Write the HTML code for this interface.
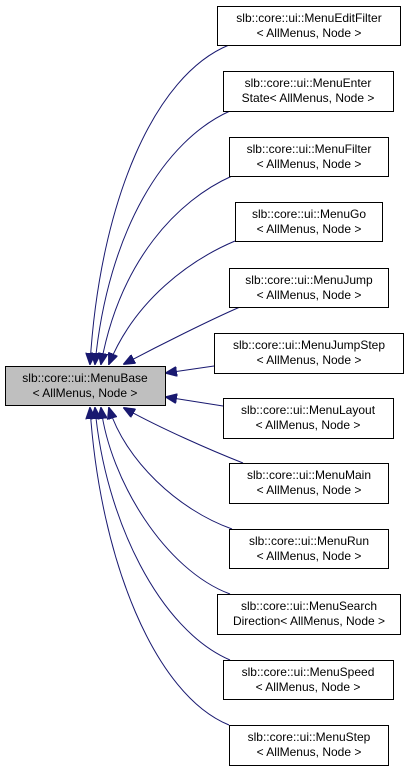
<!DOCTYPE html>
<html><head><meta charset="utf-8"><style>
html,body{margin:0;padding:0;background:#fff;}
svg{display:block;}
text{font-family:"Liberation Sans",sans-serif;font-size:12px;fill:#000;}
</style></head><body>
<svg width="409" height="771" viewBox="0 0 409 771" xmlns="http://www.w3.org/2000/svg">
<defs>
<marker id="a" markerWidth="12" markerHeight="10" refX="11" refY="5" orient="auto" markerUnits="userSpaceOnUse">
<path d="M0,0 L12,5 L0,10 Z" fill="#191970" stroke="#191970"/>
</marker>
</defs>
<g fill="none" stroke="#191970" stroke-width="1" marker-end="url(#a)">
<path d="M229,45 C155,75 100,200 90,364"/>
<path d="M230,111 C165,140 108,230 95,364"/>
<path d="M232,176 C178,200 120,260 101,364"/>
<path d="M235,241 C190,260 135,300 109,364"/>
<path d="M240,307 C210,320 160,345 124,364"/>
<path d="M214,366 L166,373"/>
<path d="M223,406 L166,397"/>
<path d="M243,463 C210,450 160,428 124,408"/>
<path d="M232,529 C178,510 125,460 109,408"/>
<path d="M230,594 C165,570 110,480 101,408"/>
<path d="M230,660 C160,630 105,520 95,408"/>
<path d="M229,725 C155,695 100,560 90,408"/>
</g>
<g stroke="#000" stroke-width="1">
<rect x="5.5" y="366.5" width="160" height="39" fill="#bfbfbf"/>
<rect x="217.5" y="6.5" width="183" height="39" fill="#fff"/>
<rect x="223.5" y="71.5" width="170" height="40" fill="#fff"/>
<rect x="229.5" y="137.5" width="159" height="39" fill="#fff"/>
<rect x="235.5" y="202.5" width="147" height="39" fill="#fff"/>
<rect x="229.5" y="268.5" width="159" height="39" fill="#fff"/>
<rect x="214.5" y="333.5" width="189" height="40" fill="#fff"/>
<rect x="223.5" y="398.5" width="170" height="40" fill="#fff"/>
<rect x="229.5" y="463.5" width="159" height="40" fill="#fff"/>
<rect x="229.5" y="529.5" width="159" height="39" fill="#fff"/>
<rect x="217.5" y="594.5" width="183" height="40" fill="#fff"/>
<rect x="223.5" y="660.5" width="170" height="39" fill="#fff"/>
<rect x="229.5" y="725.5" width="159" height="40" fill="#fff"/>
</g>
<g text-anchor="middle">
<text x="85" y="382">slb::core::ui::MenuBase</text><text x="85" y="397">&lt; AllMenus, Node &gt;</text>
<text x="309" y="22">slb::core::ui::MenuEditFilter</text><text x="309" y="37">&lt; AllMenus, Node &gt;</text>
<text x="308" y="87">slb::core::ui::MenuEnter</text><text x="308" y="102">State&lt; AllMenus, Node &gt;</text>
<text x="309" y="153">slb::core::ui::MenuFilter</text><text x="309" y="168">&lt; AllMenus, Node &gt;</text>
<text x="309" y="218">slb::core::ui::MenuGo</text><text x="309" y="233">&lt; AllMenus, Node &gt;</text>
<text x="309" y="284">slb::core::ui::MenuJump</text><text x="309" y="299">&lt; AllMenus, Node &gt;</text>
<text x="309" y="349">slb::core::ui::MenuJumpStep</text><text x="309" y="364">&lt; AllMenus, Node &gt;</text>
<text x="308" y="414">slb::core::ui::MenuLayout</text><text x="308" y="429">&lt; AllMenus, Node &gt;</text>
<text x="309" y="479">slb::core::ui::MenuMain</text><text x="309" y="494">&lt; AllMenus, Node &gt;</text>
<text x="309" y="545">slb::core::ui::MenuRun</text><text x="309" y="560">&lt; AllMenus, Node &gt;</text>
<text x="309" y="610">slb::core::ui::MenuSearch</text><text x="309" y="625">Direction&lt; AllMenus, Node &gt;</text>
<text x="308" y="676">slb::core::ui::MenuSpeed</text><text x="308" y="691">&lt; AllMenus, Node &gt;</text>
<text x="309" y="741">slb::core::ui::MenuStep</text><text x="309" y="756">&lt; AllMenus, Node &gt;</text>
</g>
</svg>
</body></html>
